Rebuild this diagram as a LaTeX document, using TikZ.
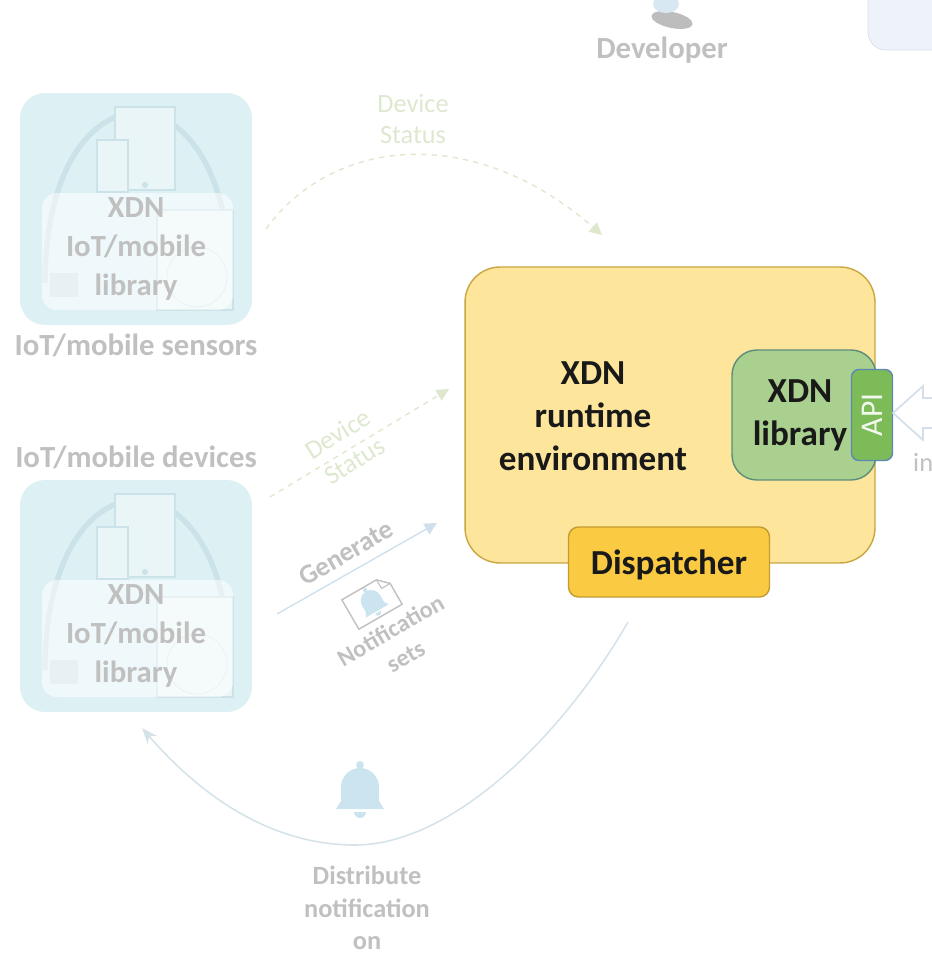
\documentclass[tikz,border=0pt]{standalone}
\usepackage{fontspec}
\setmainfont{Carlito}
\usetikzlibrary{arrows.meta}

\definecolor{greytxt}{HTML}{C0C0C0}
\definecolor{iotfill}{HTML}{DDF0F4}
\definecolor{iotline}{HTML}{CBE2E8}
\definecolor{iotpanel}{HTML}{EAF5F8}
\definecolor{statusgreen}{HTML}{DDE8CF}
\definecolor{genblue}{HTML}{CFE0EC}
\definecolor{rtefill}{HTML}{FDE59B}
\definecolor{rteline}{HTML}{C9A640}
\definecolor{libfill}{HTML}{A9D08E}
\definecolor{libline}{HTML}{5E8C7A}
\definecolor{apifill}{HTML}{7CBB58}
\definecolor{apiline}{HTML}{5D87B5}
\definecolor{dispfill}{HTML}{F9CA42}
\definecolor{displine}{HTML}{C49B2E}
\definecolor{bellblue}{HTML}{CBE4EF}
\definecolor{curveblue}{HTML}{D6E2EA}
\definecolor{devgrey}{HTML}{BDBDBD}
\definecolor{devblue}{HTML}{D8E8F3}
\definecolor{topfill}{HTML}{EEF3FA}
\definecolor{topline}{HTML}{D5DFEA}

\tikzset{
  iotbox/.style={fill=iotfill, rounded corners=0.5cm, minimum width=4.64cm, minimum height=4.64cm},
  iotpart/.style={draw=iotline, fill=iotpanel, line width=1pt},
  iottext/.style={text=greytxt, font=\bfseries\fontsize{17.5}{22}\selectfont, align=center},
  greylabel/.style={text=greytxt, font=\bfseries\fontsize{17.5}{22}\selectfont, align=center},
  statustext/.style={text=statusgreen, font=\fontsize{15}{18}\selectfont, align=center},
  statusline/.style={statusgreen, dashed, line width=0.8pt, -{Triangle[length=7pt,width=7pt]}},
  genline/.style={genblue, line width=0.8pt, -{Triangle[length=7pt,width=7pt]}},
  rtebox/.style={draw=rteline, fill=rtefill, line width=0.8pt, rounded corners=0.7cm},
  libbox/.style={draw=libline, fill=libfill, line width=0.8pt, rounded corners=0.5cm},
  apibox/.style={draw=apiline, fill=apifill, line width=0.8pt, rounded corners=0.15cm,
    minimum width=0.82cm, minimum height=1.82cm},
  dispbox/.style={draw=displine, fill=dispfill, line width=0.8pt, rounded corners=0.2cm,
    minimum width=4.02cm, minimum height=1.4cm},
  rtetext/.style={text=black!90, font=\bfseries\fontsize{20}{24.5}\selectfont, align=center},
  distcurve/.style={curveblue, line width=0.9pt, -{Stealth[length=9pt,width=7pt]}},
}

% device picture on a rounded tile, #1 name, #2 top left corner
\newcommand{\iotdevice}[2]{
  \begin{scope}[shift={#2}]
    \node[iotbox] (#1) at (116,116) {};
    \draw[iotline, line width=3pt] (25,190) .. controls (25,-37) and (210,-37) .. (210,190);
    \draw[iotpart] (95,14) rectangle (155,97);
    \fill[iotline] (125,92) circle (3);
    \draw[iotpart] (77,47) rectangle (108,99);
    \draw[iotpart] (137,117) rectangle (213,217);
    \draw[iotline] (177,184) circle (30);
    \fill[iotline] (30,180) rectangle (58,204);
    \fill[white, opacity=.55, rounded corners=0.3cm] (22,100) rectangle (213,217);
    \node[iottext] at (116,156) {XDN\\IoT/mobile\\library};
  \end{scope}}

% bell icon, #1 #2 centre, #3 scale
\newcommand{\notifbell}[3]{
  \begin{scope}[shift={(#1,#2)}, scale=#3]
    \fill[bellblue] (0,-27) circle (4);
    \fill[bellblue] (-24,17) -- (-19,9) -- (-19,-5) arc[start angle=180, end angle=360, radius=19]
      -- (19,9) -- (24,17) -- cycle;
    \fill[bellblue] (-6,20) arc[start angle=180, end angle=0, radius=6] -- cycle;
  \end{scope}}

\begin{document}
\begin{tikzpicture}[x=0.02cm, y=-0.02cm]
  \useasboundingbox (0,0) rectangle (932,953);
  \clip (0,0) rectangle (932,953);

  % developer
  \fill[devgrey, rotate around={-12:(672,20)}] (672,20) ellipse [x radius=21, y radius=8];
  \fill[devblue] (666,4) ellipse [x radius=13, y radius=9];
  \node[greylabel] (dev) at (662,50) {Developer};
  \draw[topline, fill=topfill, rounded corners=0.36cm] (868,-40) rectangle (980,50);

  % devices
  \iotdevice{sensors}{(20,93)}
  \node[greylabel] (sensorlabel) at (136,345) {IoT/mobile sensors};
  \node[greylabel] (devicelabel) at (136,457) {IoT/mobile devices};
  \iotdevice{devices}{(20,480)}

  % runtime
  \node[rtebox, minimum width=8.2cm, minimum height=5.92cm] (rte) at (670,415) {};
  \node[rtetext] (rtelabel) at (593,416) {XDN\\runtime\\environment};
  \node[libbox, minimum width=2.88cm, minimum height=2.6cm] (xdnlib) at (804,415) {};
  \node[rtetext] (liblabel) at (800,415) {XDN\\library};
  \node[apibox] (api) at (872,415) {};
  \node[rotate=90, text=white!90!apifill, font=\fontsize{18}{20}\selectfont] at (api) {API};
  \node[dispbox] (dispatcher) at (669,562) {};
  \node[rtetext] at ([yshift=-0.06cm]dispatcher.center) {Dispatcher};

  % incoming arrow
  \draw[topline, line width=1pt] (945,398) -- (923,398) -- (923,386) -- (893,413)
    -- (923,440) -- (923,428) -- (945,428);
  \node[text=greytxt, font=\fontsize{15}{18}\selectfont, anchor=west] (inlabel) at (907,462) {in};

  % status
  \coordinate (st1a) at (266,229);
  \coordinate (st1b) at (602,235);
  \draw[statusline] (st1a) .. controls (330,140) and (470,120) .. (st1b);
  \node[statustext] at (413,119) {Device\\Status};
  \coordinate (st2a) at (270,497);
  \coordinate (st2b) at (449,389);
  \draw[statusline] (st2a) -- (st2b);
  \node[statustext, rotate=32] at (346,447) {Device\\Status};

  % generate
  \coordinate (gena) at (277,614);
  \coordinate (genb) at (437,523);
  \draw[genline] (gena) -- (genb);
  \node[greylabel, rotate=30, font=\bfseries\fontsize{15.5}{18}\selectfont] at (346,553) {Generate};
  \begin{scope}[shift={(372,602)}, rotate=30]
    \draw[greytxt, fill=white, line width=0.8pt] (-25,-17) -- (15,-17) -- (25,-7) -- (25,17) -- (-25,17) -- cycle;
    \draw[greytxt, line width=0.6pt] (15,-17) -- (15,-7) -- (25,-7);
    \notifbell{0}{1}{0.55}
  \end{scope}
  \node[greylabel, rotate=30, font=\bfseries\fontsize{13.8}{17}\selectfont] at (398,643) {Notification\\sets};

  % distribute
  \coordinate (dista) at (628,622);
  \coordinate (distb) at (142,728);
  \draw[distcurve] (dista) .. controls (560,740) and (450,845) .. (355,845)
    .. controls (270,845) and (200,795) .. (distb);
  \notifbell{360}{792}{1}
  \node[greylabel, font=\bfseries\fontsize{15}{18.5}\selectfont] (distlabel) at (367,908) {Distribute\\notification\\on};
\end{tikzpicture}
\end{document}
